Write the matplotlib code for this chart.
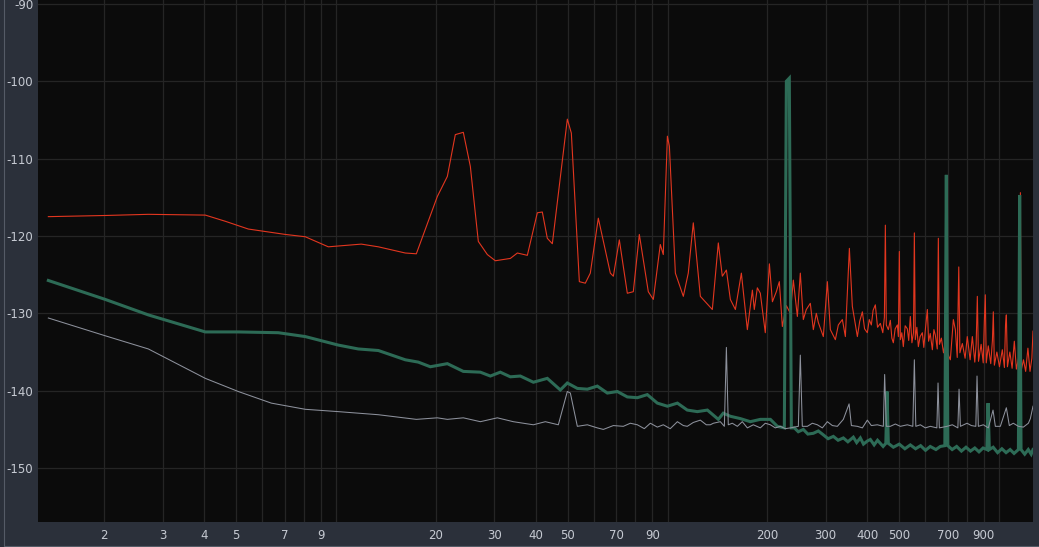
import matplotlib
matplotlib.use("Agg")
import matplotlib.pyplot as plt
from matplotlib.lines import Line2D

# red trace (Hz, dB)
red_f = [1.356, 2.014, 2.716, 4.034, 4.636, 5.437, 7.033, 8.079, 9.48, 11.92,
         13.42, 16.18, 17.47, 20.21, 21.67, 22.90, 24.21, 25.42, 26.87, 28.61,
         30.24, 33.56, 35.24, 37.77, 40.48, 41.91, 43.39, 44.93, 49.86, 51.27,
         54.2, 56.49, 58.49, 61.83, 67.22, 68.64, 71.55, 75.63, 78.85, 82.21,
         87.50, 90.6, 95.1, 97.1, 99.9, 101.3, 105.6, 111.6, 115.5, 119.6,
         125.6, 136.5, 142.3, 146.3, 150.5, 154.7, 160.2, 167.0, 174.1, 180.3,
         182.7, 186.6, 190.5, 197.2, 202.9, 207.2, 212.9, 217.4, 222.0, 228.3,
         234.7, 239.6, 246.4, 251.5, 256.8, 262.2, 269.6, 275.3, 281.1, 285.1,
         295.1, 303.5, 309.8, 320.8, 327.5, 336.8, 343.9, 353.6, 361.0, 373.8,
         380, 387, 393, 400.6, 406, 411.9, 417, 423.5, 430, 438.5,
         446, 451, 454.0, 457, 463.5, 470, 475, 479.9, 486, 493.4,
         497, 500.3, 504, 509, 514.4, 521, 528.9, 534, 540.0, 546,
         552, 555.3, 559, 565, 571.0, 578, 587.0, 593, 600, 607.8,
         613, 620, 629.3, 636, 642.4, 651, 656.0, 661, 670, 680,
         690, 697, 713, 728, 738.2, 748, 756, 762, 775, 790,
         802, 818, 830.7, 845, 853, 860, 867, 883, 896, 903,
         909, 915, 928, 944, 955, 961, 968, 985, 1003, 1023,
         1038, 1046, 1052, 1060, 1078, 1095, 1112, 1128, 1145, 1155,
         1160, 1166, 1185, 1203, 1222, 1240, 1256, 1266]
red_db = [-117.5, -117.35, -117.2, -117.3, -118.1, -119.1, -119.8, -120.1, -121.4, -121.05,
          -121.4, -122.2, -122.3, -114.9, -112.3, -106.9, -106.6, -111.0, -120.7, -122.4,
          -123.2, -122.9, -122.2, -122.5, -117.0, -116.9, -120.3, -121.0, -104.9, -106.7,
          -125.9, -126.1, -124.8, -117.7, -124.8, -125.2, -120.5, -127.4, -127.2, -119.8,
          -127.2, -128.2, -121.1, -122.4, -107.1, -108.4, -124.8, -127.8, -124.8, -118.3,
          -127.8, -129.5, -120.9, -125.2, -124.4, -128.2, -129.5, -124.8, -132.1, -127.0,
          -129.5, -126.7, -127.4, -132.5, -123.6, -128.5, -127.2, -125.9, -131.7, -129.0,
          -130.0, -125.7, -130.4, -124.8, -130.8, -129.5, -128.7, -132.1, -130.0, -131.2,
          -133.0, -125.9, -132.1, -133.4, -131.5, -130.8, -133.0, -121.6, -129.1, -133.0,
          -131.0, -129.8, -132.0, -132.5, -130.8, -131.5, -129.6, -128.9, -131.8, -131.3,
          -132.5, -130.5, -118.6, -131.5, -132.1, -130.9, -133.2, -133.8, -132.0, -131.5,
          -133.0, -122.0, -133.4, -132.5, -134.3, -131.6, -132.0, -133.5, -130.4, -133.8,
          -132.5, -119.6, -133.4, -131.8, -134.3, -133.0, -132.5, -134.4, -131.9, -129.5,
          -133.6, -132.6, -134.7, -132.1, -132.8, -134.6, -120.3, -134.0, -133.2, -135.1,
          -133.5, -135.0, -136.0, -130.8, -132.1, -135.7, -124.0, -135.1, -133.9, -135.8,
          -133.0, -136.0, -133.0, -136.3, -134.0, -127.8, -136.2, -134.0, -136.4, -131.0,
          -127.6, -136.4, -134.2, -136.5, -133.5, -129.8, -136.7, -135.0, -136.9, -134.7,
          -137.0, -131.5, -130.2, -136.9, -135.0, -137.1, -133.6, -137.2, -135.8, -137.3,
          -114.4, -137.4, -136.0, -137.5, -134.5, -137.5, -135.8, -132.3]

# green trace
green_f = [1.356, 2.014, 2.716, 4.034, 5.073, 6.698, 8.079, 10.16, 11.67, 13.42,
           16.18, 17.71, 19.25, 21.67, 24.21, 27.25, 29.21, 31.30, 33.56, 35.97,
           39.38, 43.39, 47.50, 49.86, 53.45, 57.30, 61.40, 65.84, 70.57, 75.63,
           81.09, 86.90, 93.16, 99.9, 107.1, 114.7, 123.0, 131.9, 142.3, 147.3,
           154.7, 165.8, 177.7, 190.5, 204.3, 214.4, 225.1, 228.3, 233.0, 236.3,
           241.3, 248, 256.8, 265, 275.3, 285, 295.1, 305, 316.4, 327,
           339.1, 350, 363.5, 372, 381.6, 390, 400.6, 409.1, 420, 430,
           438.5, 447, 455.5, 459.3, 463.5, 480, 500, 520, 540, 560,
           580, 600, 620, 645, 665, 686.3, 693.4, 700.7, 722, 745,
           770, 795, 820, 845, 870, 895, 918.8, 926.4, 934.8, 960,
           990, 1020, 1050, 1080, 1110, 1144, 1154, 1165, 1195, 1225,
           1250, 1266]
green_db = [-125.75, -128.2, -130.2, -132.4, -132.4, -132.5, -133.0, -134.1, -134.6, -134.8,
            -136.0, -136.3, -136.9, -136.5, -137.5, -137.6, -138.1, -137.6, -138.2, -138.1,
            -138.9, -138.4, -139.9, -139.0, -139.7, -139.8, -139.4, -140.3, -140.1, -140.8,
            -140.9, -140.5, -141.6, -142.0, -141.6, -142.5, -142.7, -142.5, -143.7, -142.9,
            -143.3, -143.6, -144.0, -143.7, -143.7, -144.6, -144.8, -100.0, -99.6, -144.8,
            -144.8, -145.3, -145.0, -145.6, -145.5, -145.2, -145.7, -146.2, -145.9, -146.4,
            -146.1, -146.6, -146.0, -146.7, -146.1, -146.9, -146.5, -146.3, -147.0, -146.4,
            -146.8, -147.2, -146.8, -140.1, -146.8, -147.3, -146.9, -147.5, -147.0, -147.5,
            -147.1, -147.7, -147.2, -147.6, -147.2, -147.1, -112.1, -147.1, -147.6, -147.2,
            -147.8, -147.3, -147.8, -147.4, -147.9, -147.4, -147.6, -141.6, -147.6, -147.3,
            -148.0, -147.5, -148.0, -147.6, -148.1, -147.6, -114.7, -147.6, -148.2, -147.6,
            -148.2, -147.6]

# gray trace
gray_f = [1.356, 2.014, 2.716, 4.034, 5.073, 6.38, 8.079, 10.16, 13.42, 17.47,
          20.21, 21.67, 24.21, 27.25, 30.66, 34.26, 39.38, 42.8, 46.84, 49.86,
          50.92, 53.45, 57.30, 61.40, 64.03, 68.64, 73.56, 77.22, 81.09, 85.11,
          88.75, 93.16, 97.1, 101.9, 107.1, 111.6, 114.7, 119.6, 125.6, 130.9,
          134.6, 137.5, 144.3, 148.4, 150.5, 152.5, 156.8, 162.4, 168.1, 174.1,
          181.5, 190.5, 197.2, 204.3, 211.4, 218.9, 226.7, 234.7, 248.1, 251.5,
          255.0, 264.1, 273.4, 283.1, 293.1, 303.5, 314.2, 325.3, 339.1, 352.9,
          358.6, 373.8, 387.0, 400.6, 411.9, 429.5, 447.7, 451.8, 457.1, 470.0,
          486.6, 503.8, 528.9, 549.5, 555.3, 561.0, 578.9, 599.4, 620.6, 649.3,
          654.6, 660.5, 696.9, 723.0, 751.3, 757.5, 764.5, 800.8, 825.0, 851.1,
          858.2, 866.1, 896.6, 928.4, 959.1, 974.6, 1009, 1052, 1074, 1104,
          1144, 1184, 1226, 1243, 1266]
gray_db = [-130.6, -132.9, -134.6, -138.4, -140.1, -141.6, -142.4, -142.7, -143.1, -143.7,
           -143.5, -143.7, -143.5, -144.0, -143.5, -144.0, -144.4, -144.0, -144.4, -140.1,
           -140.3, -144.6, -144.4, -144.8, -145.0, -144.5, -144.6, -144.2, -144.4, -144.9,
           -144.2, -144.7, -144.4, -144.9, -144.0, -144.5, -144.6, -144.1, -143.8, -144.4,
           -144.4, -144.2, -144.0, -144.6, -134.4, -144.4, -144.2, -144.6, -144.0, -144.8,
           -144.4, -144.8, -144.2, -144.4, -144.8, -144.6, -144.9, -144.8, -144.6, -135.4,
           -144.6, -144.6, -144.2, -144.4, -144.8, -144.0, -144.5, -144.6, -143.7, -141.7,
           -144.5, -144.6, -144.8, -143.8, -144.5, -144.4, -144.6, -137.9, -144.6, -144.6,
           -144.3, -144.6, -144.4, -144.6, -136.0, -144.6, -144.4, -144.8, -144.6, -144.8,
           -139.0, -144.8, -144.6, -144.4, -144.8, -139.8, -144.6, -144.2, -144.5, -144.6,
           -138.1, -144.6, -144.4, -144.8, -142.5, -144.6, -144.6, -142.2, -144.5, -144.2,
           -144.6, -144.7, -144.2, -143.6, -142.0]

grid_f = [2, 3, 4, 5, 6, 7, 8, 9, 10, 20, 30, 40, 50, 60, 70, 80, 90, 100,
          200, 300, 400, 500, 600, 700, 800, 900, 1000]
grid_lbl = ['2', '3', '4', '5', '', '7', '', '9', '', '20', '30', '40', '50', '', '70', '', '90', '',
            '200', '300', '400', '500', '', '700', '', '900', '']
db_ticks = [-90, -100, -110, -120, -130, -140, -150]

panel = '#2b303a'
txt = '#c6cad2'

fig = plt.figure(figsize=(10.39, 5.47), dpi=100, facecolor=panel)
ax = fig.add_axes([38 / 1039, 25.5 / 547, 995 / 1039, 521.5 / 547])
ax.set_facecolor('#0b0b0b')

ax.plot(red_f, red_db, color='#e2361f', lw=0.8, zorder=3)
ax.plot(green_f, green_db, color='#2d6b56', lw=2.2, zorder=4,
        solid_joinstyle='miter')
ax.plot(gray_f, gray_db, color='#8d919c', lw=0.75, zorder=5)

ax.set_xscale('log')
ax.set_xlim(1.262, 1266)
ax.set_ylim(-156.9, -89.5)
ax.xaxis.set_minor_locator(matplotlib.ticker.NullLocator())
ax.set_xticks(grid_f)
ax.set_xticklabels(grid_lbl)
ax.set_yticks(db_ticks)
ax.set_yticklabels([str(v) for v in db_ticks])
ax.grid(True, color='#252525', lw=0.9, zorder=0)
ax.tick_params(length=0, colors=txt, labelsize=8.5)
ax.tick_params(axis='x', pad=5.5)
ax.tick_params(axis='y', pad=3.5)
for s in ax.spines.values():
    s.set_visible(False)

# outer frame lines
fig.add_artist(Line2D([3.5 / 1039, 3.5 / 1039], [1.5 / 547, 1], color='#555b66', lw=0.8))
fig.add_artist(Line2D([3.5 / 1039, 1], [1.5 / 547, 1.5 / 547], color='#555b66', lw=0.8))

fig.savefig('out.png', dpi=100, facecolor=panel)
